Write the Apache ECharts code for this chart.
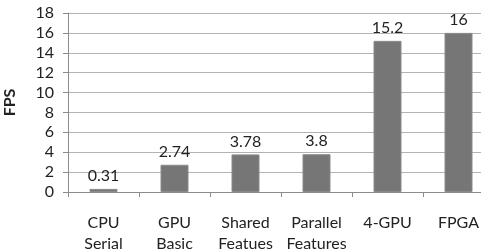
<!DOCTYPE html>
<html>
<head>
<meta charset="utf-8">
<script src="https://cdn.jsdelivr.net/npm/echarts@6/dist/echarts.min.js"></script>
<style>
html, body { margin: 0; padding: 0; background: #fff; }
#main { width: 481px; height: 251px; }
</style>
</head>
<body>
<div id="main"></div>
<script>
var categories = ['CPU\nSerial', 'GPU\nBasic', 'Shared\nFeatues', 'Parallel\nFeatures', '4-GPU', 'FPGA'];
var fpsValues = [0.31, 2.74, 3.78, 3.8, 15.2, 16];

var chart = echarts.init(document.getElementById('main'));
var font = 'Lato, "Open Sans", sans-serif';
var option = {
    animation: false,
    grid: {
        left: 68,
        top: 13,
        width: 426,
        height: 179,
        outerBoundsMode: 'none'
    },
    xAxis: {
        type: 'category',
        data: categories,
        axisLine: { lineStyle: { color: '#8c8c8c' } },
        axisTick: { show: true, length: 5, lineStyle: { color: '#8c8c8c' } },
        axisLabel: {
            color: '#222',
            fontFamily: font,
            fontSize: 16,
            lineHeight: 21,
            margin: 20,
            verticalAlign: 'top',
            interval: 0
        }
    },
    yAxis: {
        type: 'value',
        min: 0,
        max: 18,
        interval: 2,
        name: 'FPS',
        nameLocation: 'middle',
        nameGap: 50,
        nameRotate: 90,
        nameTextStyle: { color: '#222', fontFamily: font, fontSize: 16, fontWeight: 'bold' },
        axisLine: { show: true, lineStyle: { color: '#8c8c8c' } },
        axisTick: { show: true, length: 5, lineStyle: { color: '#8c8c8c' } },
        axisLabel: { color: '#222', fontFamily: font, fontSize: 16, margin: 14 },
        splitLine: { lineStyle: { color: '#b3b3b3' } }
    },
    series: [{
        type: 'bar',
        data: fpsValues,
        barWidth: 28,
        itemStyle: { color: '#767676', borderColor: '#8a8a8a', borderWidth: 1 },
        label: {
            show: true,
            position: 'top',
            distance: 5,
            color: '#222',
            fontFamily: font,
            fontSize: 16
        }
    }]
};
chart.setOption(option);
</script>
</body>
</html>
